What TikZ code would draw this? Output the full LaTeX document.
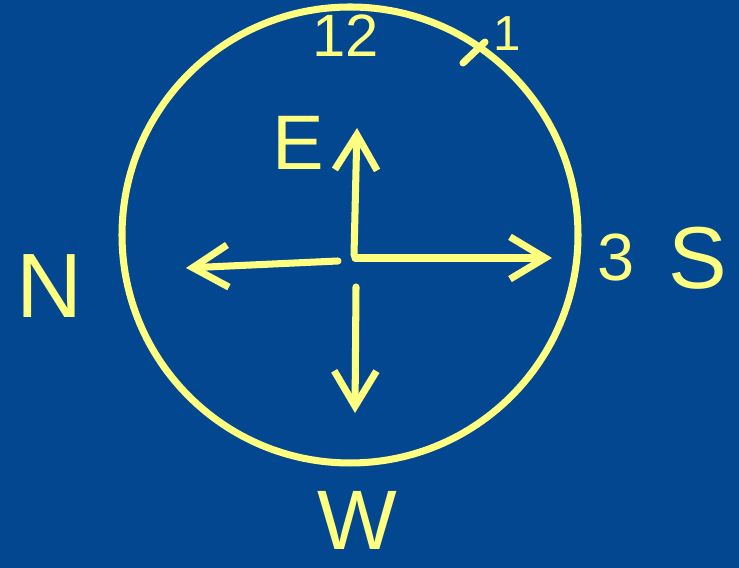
\documentclass[tikz,border=0pt]{standalone}
\usepackage{fontspec}
\setmainfont{Liberation Sans}
\usetikzlibrary{arrows.meta}

\definecolor{boardblue}{RGB}{4,71,145}
\definecolor{chalkyellow}{RGB}{255,255,128}

\newcommand*{\wmax}{739}
\newcommand*{\hmax}{568}

\begin{document}
\begin{tikzpicture}
[
	x=0.01cm,
	y=-0.01cm,
	stroke/.style={chalkyellow,line width=2pt,line cap=round},
	pointer/.style={stroke,-{Straight Barb[length=10pt,width=12pt]}},
	letter/.style={chalkyellow,inner sep=0pt}
]

	% background
	\fill[boardblue] (0,0) rectangle (\wmax,\hmax);
	\useasboundingbox (0,0) rectangle (\wmax,\hmax);

	% clock face
	\coordinate (o) at (350,235);
	\draw[stroke] (o) circle[radius=228];
	\coordinate (tickin) at (463,63);
	\coordinate (tickout) at (485,42);
	\draw[stroke] (tickin) -- (tickout);

	% hour labels
	\node[letter,font=\fontsize{17}{20}\selectfont] at (346,36) (twelve) {12};
	\node[letter,font=\fontsize{14}{17}\selectfont] at (507,34) (one) {1};
	\node[letter,font=\fontsize{19}{23}\selectfont] at (616,258) (three) {3};

	% compass labels
	\node[letter,font=\fontsize{22}{26}\selectfont] at (298,143) (east) {E};
	\node[letter,font=\fontsize{26}{31}\selectfont] at (50,286) (north) {N};
	\node[letter,font=\fontsize{25}{30}\selectfont] at (698,258) (south) {S};
	\node[letter,font=\fontsize{24}{28}\selectfont] at (357,520) (west) {W};

	% arrows
	\coordinate (upfoot) at (354,255);
	\coordinate (uptip) at (357,128);
	\coordinate (rightfoot) at (355,258);
	\coordinate (righttip) at (552,258);
	\coordinate (leftfoot) at (338,261);
	\coordinate (lefttip) at (186,268);
	\coordinate (downfoot) at (356,287);
	\coordinate (downtip) at (355,413);
	\draw[pointer] (upfoot) -- (uptip);
	\draw[pointer] (rightfoot) -- (righttip);
	\draw[pointer] (leftfoot) -- (lefttip);
	\draw[pointer] (downfoot) -- (downtip);

\end{tikzpicture}
\end{document}
